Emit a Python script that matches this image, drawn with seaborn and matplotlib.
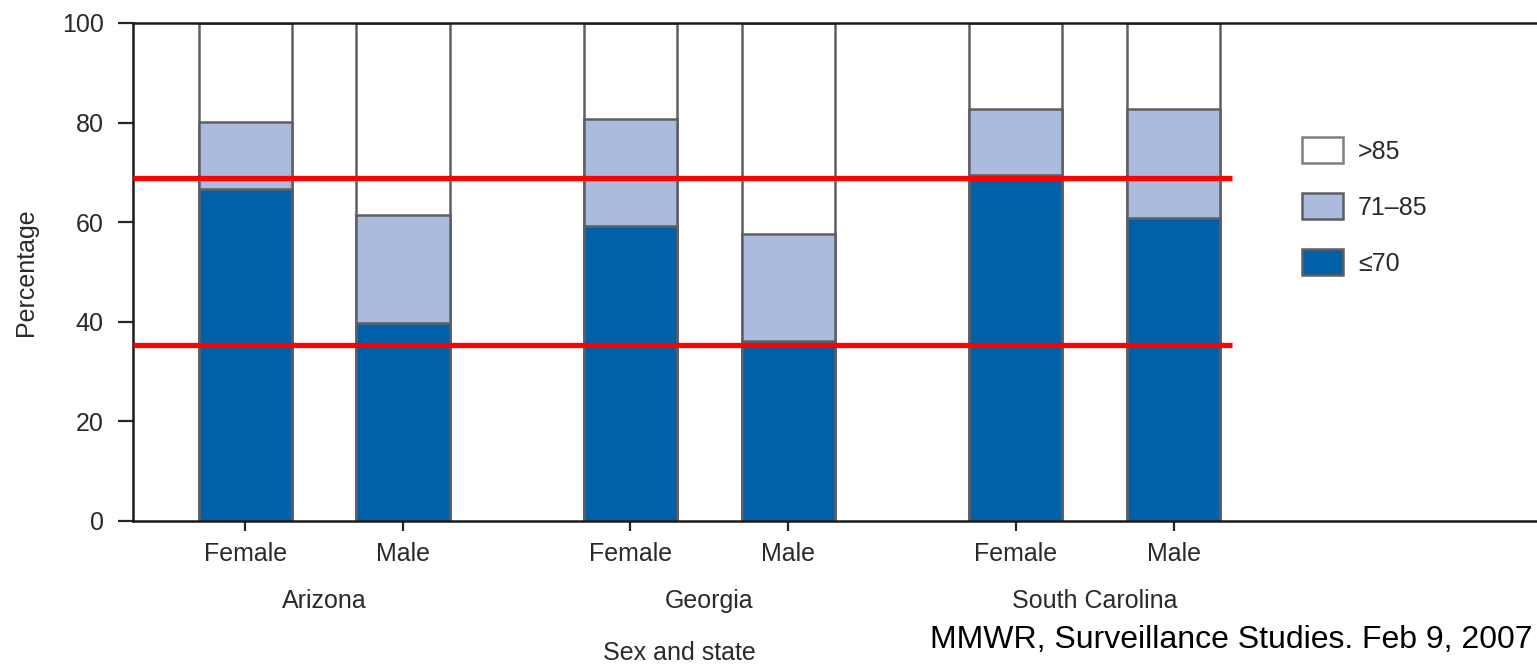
import matplotlib
matplotlib.use("Agg")
import matplotlib.pyplot as plt
from matplotlib.patches import Patch
import numpy as np
import pandas as pd
import seaborn as sns

# Categories
states = ["Arizona", "Georgia", "South Carolina"]
sexes = ["Female", "Male"]

# Percentage in each band, bar order: AZ F, AZ M, GA F, GA M, SC F, SC M
le70 = [66.7, 39.8, 59.2, 36.2, 69.5, 60.8]
p71_85 = [13.4, 21.6, 21.5, 21.4, 13.3, 22.0]
gt85 = [19.9, 38.6, 19.3, 42.4, 17.2, 17.2]

# red reference lines (percentage)
ref_lines = [68.8, 35.4]

legend_labels = [">85", "71\u201385", "\u226470"]

sns.set_style("white")
plt.rcParams["font.family"] = ["Liberation Sans", "DejaVu Sans"]

dark_blue = "#0060a8"
light_blue = "#abbbdd"
edge = "#5f5f63"
txt = "#2a2a2a"
fs = 18

# x positions: gap between states
group_gap = 2.44
pos = [g * group_gap + s for g in range(len(states)) for s in range(len(sexes))]

df = pd.DataFrame({
    "pos": pos,
    "le70": le70,
    "upto85": np.array(le70) + np.array(p71_85),
    "total": np.array(le70) + np.array(p71_85) + np.array(gt85),
})

fig = plt.figure(figsize=(15.37, 6.66), dpi=100)
ax = fig.add_axes([133 / 1537, 1 - 521 / 666, 1 - 133 / 1537, 498 / 666])

for col, c in [("total", "white"), ("upto85", light_blue), ("le70", dark_blue)]:
    sns.barplot(data=df, x="pos", y=col, native_scale=True, color=c,
                saturation=1, width=0.59, edgecolor=edge, linewidth=1.8,
                errorbar=None, ax=ax)

ax.hlines(ref_lines, -0.71, pos[-1] + 0.37, color="red", lw=3.8, zorder=5)

ax.set_xlim(-0.71, 8.18)
ax.set_ylim(0, 100)
ax.set_yticks(range(0, 101, 20))
ax.tick_params(axis="y", length=11, width=1.6, pad=10, labelsize=fs,
               labelcolor=txt, direction="out", left=True)
ax.set_xticks(pos)
ax.set_xticklabels(sexes * len(states))
ax.tick_params(axis="x", length=7, width=1.6, pad=8, labelsize=fs,
               labelcolor=txt, direction="out", bottom=True)

for sp in ["top", "bottom", "left"]:
    ax.spines[sp].set_color("#1a1a1a")
    ax.spines[sp].set_linewidth(1.8)
ax.spines["right"].set_visible(False)

for g, st in enumerate(states):
    mid = (pos[2 * g] + pos[2 * g + 1]) / 2
    ax.text(mid, -0.161, st, transform=ax.get_xaxis_transform(),
            ha="center", va="center", fontsize=fs, color=txt)

ax.set_ylabel("Percentage", fontsize=fs, color=txt)
ax.yaxis.set_label_coords(-0.068, 0.5)
ax.set_xlabel("Sex and state", fontsize=fs, color=txt, va="center")
ax.xaxis.set_label_coords(0.389, -0.265)

handles = [Patch(facecolor="white", edgecolor="#808080", linewidth=1.8),
           Patch(facecolor=light_blue, edgecolor=edge, linewidth=1.8),
           Patch(facecolor=dark_blue, edgecolor=edge, linewidth=1.8)]
fig.legend(handles, legend_labels, loc="upper left",
           bbox_to_anchor=(1302 / 1537, 1 - 137 / 666), frameon=False,
           fontsize=fs, handlelength=1.64, handleheight=1.24,
           labelspacing=1.18, handletextpad=0.6, borderpad=0,
           borderaxespad=0, labelcolor=txt)

fig.text(930 / 1537, 1 - 640 / 666, "MMWR, Surveillance Studies. Feb 9, 2007",
         ha="left", va="center", fontsize=23, color="black")

fig.savefig("out.png", dpi=100)
